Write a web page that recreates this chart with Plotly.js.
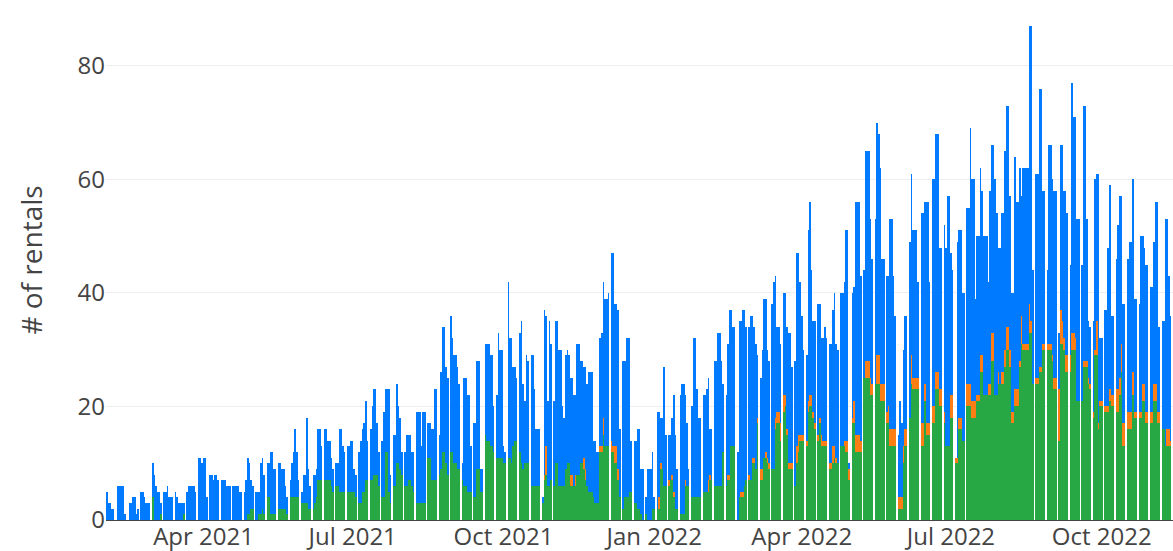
<!DOCTYPE html>
<html>
<head>
<meta charset="utf-8">
<script src="https://cdn.plot.ly/plotly-3.0.1.min.js"></script>
<style>html,body{margin:0;padding:0;background:#fff;}#chart{width:1173px;height:551px;}</style>
</head>
<body>
<div id="chart"></div>
<script>
// Daily data starting Monday 2021-02-01, one row per week (Mon..Sun); null = closed day
const startDate = '2021-02-01';
const tickLabels = ['Apr 2021','Jul 2021','Oct 2021','Jan 2022','Apr 2022','Jul 2022','Oct 2022'];
const tickDates = ['2021-04-01','2021-07-01','2021-10-01','2022-01-01','2022-04-01','2022-07-01','2022-10-01'];

// total height of each day's stacked bar
const totalRentals = [
5,3,3,2,2,0,null,
6,6,6,6,1,0,null,
3,3,4,4,1,2,null,
5,5,4,3,3,3,null,
10,8,6,5,5,3,null,
5,5,6,4,4,4,null,
5,4,3,3,3,3,null,
5,6,6,6,6,5,null,
11,11,10,11,11,4,null,
8,8,7,8,8,7,null,
7,7,7,6,6,6,null,
6,6,6,6,5,5,null,
5,7,11,10,7,6,null,
5,5,5,10,11,8,null,
10,10,12,12,9,9,null,
10,10,9,9,6,4,null,
7,10,12,16,12,7,null,
5,8,8,18,9,6,null,
8,8,9,16,16,13,null,
16,16,14,14,11,9,null,
10,10,16,16,13,12,null,
13,13,14,14,9,8,null,
12,14,16,17,21,14,null,
16,20,23,23,17,12,null,
14,19,23,23,23,8,null,
15,15,24,20,18,12,null,
12,15,15,15,12,12,null,
19,19,19,13,19,19,null,
17,17,16,16,23,23,null,
15,26,34,34,27,25,null,
36,32,29,29,27,24,null,
10,25,25,22,22,13,null,
17,17,28,28,9,9,null,
31,31,31,29,29,20,null,
22,33,30,30,13,12,null,
42,32,32,27,27,25,null,
33,35,24,21,29,28,null,
29,29,23,16,16,16,null,
4,37,36,21,35,31,null,
21,35,35,30,30,20,18,
29,30,29,25,25,22,22,
31,31,28,28,27,27,24,
26,26,26,14,14,12,12,
32,33,42,39,39,40,null,
47,47,38,38,37,16,null,
28,28,32,32,32,14,null,
14,14,16,16,9,9,null,
4,9,9,9,12,4,null,
19,19,18,18,27,15,null,
15,15,18,22,15,9,null,
22,24,24,22,17,9,null,
20,32,32,23,18,18,null,
22,22,23,25,16,16,null,
28,28,33,33,28,24,null,
22,31,37,37,34,34,null,
12,35,35,37,37,34,null,
34,36,36,34,31,29,null,
25,30,39,39,30,28,null,
38,42,43,34,34,31,null,
40,40,34,33,33,27,null,
28,47,47,42,36,30,null,
29,51,56,44,35,35,null,
38,38,32,32,34,32,null,
31,31,37,40,31,30,null,
40,40,42,51,51,10,null,
40,41,56,56,56,43,null,
44,65,65,65,53,46,null,
53,70,68,62,46,46,null,
43,43,53,53,43,36,null,
15,21,17,30,36,36,null,
49,61,51,51,51,42,null,
54,54,56,56,56,42,null,
60,60,68,68,48,48,null,
52,48,57,57,47,44,null,
11,49,51,51,40,40,null,
55,55,69,60,60,39,50,
50,62,58,50,50,50,42,
58,66,66,60,54,48,48,
54,54,65,73,73,57,40,
40,64,56,56,62,57,62,
62,62,62,87,87,44,null,
61,61,76,76,58,58,null,
44,66,66,60,58,58,null,
33,66,66,58,58,54,null,
45,77,71,71,53,53,null,
45,73,73,53,35,34,null,
35,60,61,61,32,32,null,
37,37,48,59,36,36,null,
46,52,57,57,38,38,null,
46,49,49,60,39,39,null,
38,50,50,48,45,45,null,
41,41,49,56,56,34,null,
35,35,53,53,43,36,null
];

// green (bottom) segment
const greenRentals = [
0,0,0,0,0,0,null,
0,0,0,0,0,0,null,
0,0,0,0,0,0,null,
0,0,0,0,0,0,null,
4,0,0,0,0,1,null,
0,0,0,0,0,0,null,
0,0,0,0,0,1,null,
0,0,0,0,0,0,null,
0,0,0,0,0,0,null,
0,0,0,0,0,0,null,
0,0,0,0,0,0,null,
0,0,0,0,0,0,null,
0,0,1,1,2,2,null,
0,0,1,1,2,1,null,
4,4,1,1,1,1,null,
2,2,2,2,2,1,null,
4,4,4,4,4,4,null,
3,3,3,3,2,2,null,
2,3,4,7,7,7,null,
7,7,7,7,6,5,null,
6,6,5,5,5,5,null,
5,5,5,5,5,4,null,
3,3,5,5,7,7,null,
7,7,8,8,8,6,null,
4,4,12,12,5,3,null,
6,6,10,10,9,8,null,
6,6,7,7,6,5,null,
3,3,3,3,3,3,null,
11,11,7,7,7,7,null,
8,9,12,12,10,8,null,
12,12,10,10,9,9,null,
7,6,6,5,5,5,null,
4,4,9,9,5,5,null,
15,14,14,13,13,12,null,
11,11,11,11,10,10,null,
11,11,10,13,14,14,null,
12,10,9,10,10,10,null,
6,6,6,6,6,6,null,
3,7,8,6,6,7,null,
6,10,10,6,6,6,6,
9,10,10,6,6,6,6,
8,8,10,10,9,7,6,
5,5,5,4,3,3,3,
12,12,15,13,13,13,null,
12,12,10,10,7,4,null,
2,4,4,4,5,5,null,
3,3,2,2,1,0,null,
1,0,0,0,2,2,null,
2,2,9,9,6,6,null,
6,7,7,4,2,2,null,
1,1,1,6,6,6,null,
4,4,4,4,4,4,null,
5,5,5,5,7,7,null,
6,6,6,6,6,12,null,
6,7,7,13,13,13,null,
0,4,4,4,6,7,null,
7,7,10,10,9,17,null,
7,7,11,11,10,9,null,
9,9,16,17,17,14,null,
19,20,15,9,9,9,null,
6,10,12,14,14,14,null,
13,19,20,20,18,16,null,
14,17,13,13,13,13,null,
9,9,10,11,10,10,null,
13,13,13,12,12,7,null,
17,17,12,12,12,12,null,
25,25,25,25,22,22,null,
24,24,24,21,21,21,null,
17,17,13,13,13,13,null,
2,2,2,10,13,13,null,
18,24,23,23,23,23,null,
13,13,21,15,15,15,null,
17,17,23,23,20,20,null,
17,13,13,13,18,18,null,
10,10,16,16,14,14,null,
20,20,20,18,18,18,21,
21,26,26,22,22,22,22,
22,28,28,22,22,24,24,
24,24,27,30,30,27,17,
17,20,20,20,27,31,30,
30,30,30,33,33,24,null,
24,24,26,26,30,30,null,
30,30,30,28,23,23,null,
14,31,31,30,26,26,null,
26,30,30,30,21,21,null,
21,27,27,27,24,23,null,
18,29,29,16,20,20,null,
19,19,19,21,20,20,null,
19,19,22,26,13,13,null,
16,16,16,22,18,18,null,
18,18,21,21,17,17,null,
17,17,21,21,17,17,null,
16,16,13,13,13,13,null
];

// orange (middle) segment
const orangeRentals = [
0,0,0,0,0,0,null,
0,0,0,0,0,0,null,
0,0,0,0,0,0,null,
0,0,0,0,0,0,null,
0,0,0,0,0,0,null,
0,0,0,0,0,0,null,
0,0,0,0,0,0,null,
0,0,0,0,0,0,null,
0,0,0,0,0,0,null,
0,0,0,0,0,0,null,
0,0,0,0,0,0,null,
0,0,0,0,0,0,null,
0,0,0,0,0,0,null,
0,0,0,0,0,0,null,
0,0,0,0,0,0,null,
0,0,0,0,0,0,null,
0,0,0,0,0,0,null,
0,0,0,0,0,0,null,
0,0,0,0,0,0,null,
0,0,0,0,0,0,null,
0,0,0,0,0,0,null,
0,0,0,0,0,0,null,
0,0,0,0,0,0,null,
0,0,0,0,0,0,null,
0,0,0,0,0,0,null,
0,0,0,0,0,0,null,
0,0,0,0,0,0,null,
0,0,0,0,0,0,null,
0,0,0,0,0,0,null,
0,0,0,0,0,0,null,
0,0,0,0,0,0,null,
0,0,0,0,0,0,null,
0,0,0,0,0,0,null,
0,0,0,0,0,0,null,
0,0,0,0,0,0,null,
0,0,0,0,0,0,null,
0,0,0,0,0,0,null,
0,0,0,0,0,0,null,
0,1,5,0,0,0,null,
0,0,0,0,0,0,0,
0,0,0,2,2,0,2,
0,0,0,0,2,2,0,
0,0,0,0,0,0,0,
1,1,3,0,0,0,null,
2,1,3,3,2,0,null,
0,0,0,0,0,0,null,
0,0,0,0,0,0,null,
0,0,0,0,0,0,null,
0,2,1,0,0,0,null,
1,0,1,1,0,0,null,
0,0,0,1,0,0,null,
0,0,0,0,0,0,null,
0,0,0,2,1,0,null,
0,0,0,0,0,0,null,
0,1,1,0,0,0,null,
0,0,1,1,0,0,null,
1,0,1,1,0,1,null,
2,2,0,1,1,1,null,
0,0,2,2,2,3,null,
3,2,1,1,1,1,null,
0,3,3,1,1,1,null,
1,2,2,2,1,1,null,
1,1,2,1,1,1,null,
1,1,3,2,1,0,null,
0,0,1,2,2,2,null,
1,4,3,3,3,2,null,
0,3,3,3,3,2,null,
0,5,5,3,3,3,null,
2,3,3,3,3,3,null,
2,2,2,3,3,3,null,
0,5,2,2,2,2,null,
4,4,3,2,2,2,null,
3,3,3,3,3,3,null,
2,0,0,0,4,4,null,
1,1,2,2,0,0,null,
4,4,4,3,3,3,1,
1,3,3,0,0,0,2,
2,5,5,0,0,2,0,
2,2,3,4,4,3,2,
2,3,3,3,1,5,1,
1,1,1,5,2,0,null,
1,1,1,1,1,1,null,
1,1,1,1,2,2,null,
9,6,4,2,3,3,null,
3,3,3,2,0,0,null,
0,1,1,1,1,1,null,
1,1,6,1,1,1,null,
1,1,1,2,2,2,null,
4,4,3,5,4,4,null,
3,3,3,4,1,1,null,
1,1,3,3,2,2,null,
2,2,3,3,2,2,null,
0,0,0,3,3,1,null
];

// build dates (one per entry) from the start date
function dayString(i) {
  const d = new Date(Date.UTC(2021, 1, 1) + i * 86400000);
  const m = String(d.getUTCMonth() + 1).padStart(2, '0');
  const dd = String(d.getUTCDate()).padStart(2, '0');
  return d.getUTCFullYear() + '-' + m + '-' + dd;
}
const dates = totalRentals.map((_, i) => dayString(i));
const blueRentals = totalRentals.map((t, i) => t === null ? null : t - greenRentals[i] - orangeRentals[i]);

const traces = [
  {type: 'bar', x: dates, y: greenRentals, marker: {color: '#28a745'}, name: 'green'},
  {type: 'bar', x: dates, y: orangeRentals, marker: {color: '#fd7e14'}, name: 'orange'},
  {type: 'bar', x: dates, y: blueRentals, marker: {color: '#007bff'}, name: 'blue'}
];

const layout = {
  width: 1173, height: 551,
  margin: {l: 106, r: 0, t: 0, b: 31},
  barmode: 'stack', bargap: 0,
  showlegend: false,
  paper_bgcolor: '#ffffff', plot_bgcolor: '#ffffff',
  font: {family: '"Open Sans", verdana, arial, sans-serif', color: '#444', size: 24},
  xaxis: {
    type: 'date',
    range: ['2021-01-31 12:00', '2022-11-13 12:00'],
    tickvals: tickDates, ticktext: tickLabels,
    showgrid: false, zeroline: false,
    tickfont: {size: 24}
  },
  yaxis: {
    range: [0, 91.6], dtick: 20,
    gridcolor: '#eeeeee', zeroline: true, zerolinecolor: '#444', zerolinewidth: 1,
    tickfont: {size: 24},
    title: {text: '# of rentals', font: {size: 28}, standoff: 26}
  }
};

Plotly.newPlot('chart', traces, layout, {displayModeBar: false, staticPlot: true});
</script>
</body>
</html>
